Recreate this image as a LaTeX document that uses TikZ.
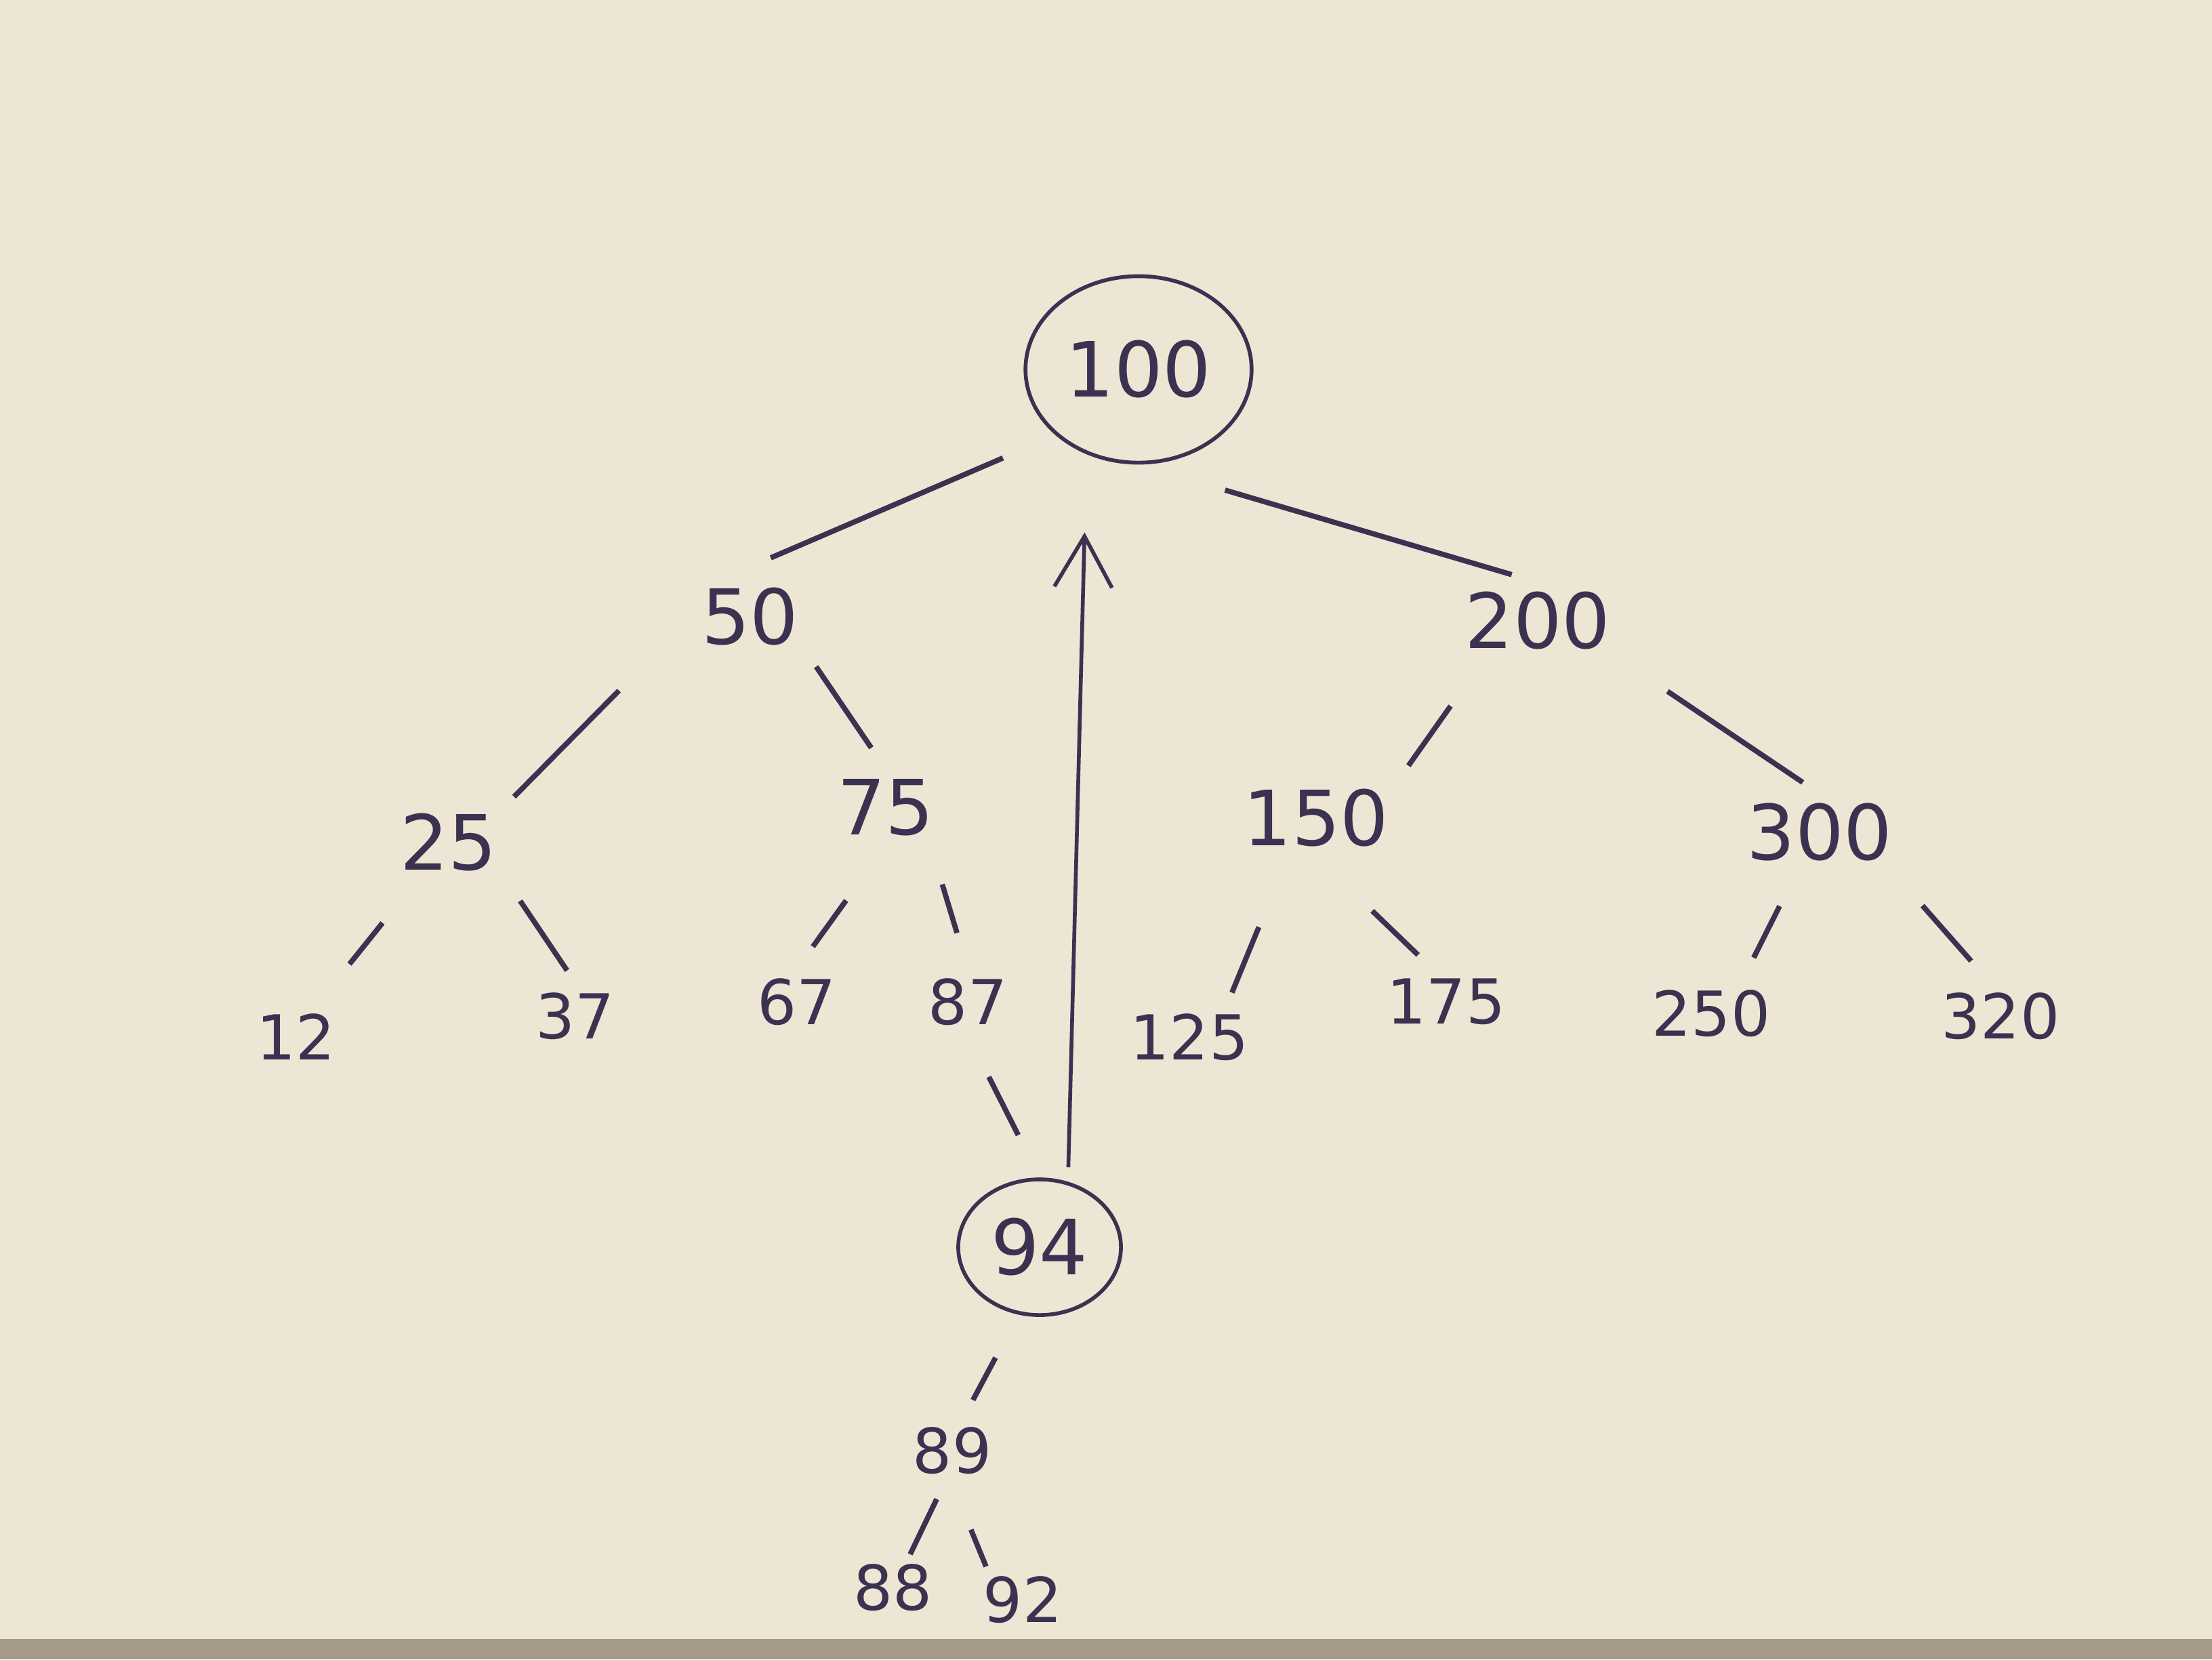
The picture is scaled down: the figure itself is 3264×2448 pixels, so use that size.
\documentclass[tikz,border=0pt]{standalone}
\usepackage{fontspec}
\setmainfont{DejaVu Sans}
\usepackage{tikz}
\usetikzlibrary{arrows.meta,positioning,shapes.geometric}
\definecolor{paper}{HTML}{EDE6D4}
\definecolor{desk}{HTML}{A39A88}
\definecolor{ink}{HTML}{3A3250}

\tikzset{
  key/.style={text=ink,inner sep=3pt,font=\fontsize{32}{32}\selectfont},
  leaf/.style={key,font=\fontsize{26}{26}\selectfont},
  ring/.style={key,draw=ink,line width=1.6pt,ellipse},
  gap/.style 2 args={shorten <=#1,shorten >=#2},
}

\begin{document}
\begin{tikzpicture}[x=0.01cm,y=-0.01cm,line width=2.2pt,draw=ink]
   \fill[paper] (0,0) rectangle (3264,2448);
   \fill[desk] (0,2418) rectangle (3264,2448);
   \useasboundingbox (0,0) rectangle (3264,2448);

   % top of the tree
   \node[ring,minimum width=3.05cm,minimum height=2.75cm] (n100) at (1680,545) {100};
   \node[key] (n50)  at (1107,910)  {50};
   \node[key] (n200) at (2269,916)  {200};
   \node[key] (n25)  at (662,1243)  {25};
   \node[key] (n75)  at (1307,1191) {75};
   \node[key] (n150) at (1942,1207) {150};
   \node[key] (n300) at (2685,1228) {300};

   % leaves
   \node[leaf] (n12)  at (437,1530)  {12};
   \node[leaf] (n37)  at (849,1499)  {37};
   \node[leaf] (n67)  at (1176,1478) {67};
   \node[leaf] (n87)  at (1428,1478) {87};
   \node[leaf] (n125) at (1755,1530) {125};
   \node[leaf] (n175) at (2134,1478) {175};
   \node[leaf] (n250) at (2525,1495) {250};
   \node[leaf] (n320) at (2952,1499) {320};

   % inserted key
   \node[ring,minimum width=2.4cm,minimum height=2.0cm] (n94) at (1534,1840) {94};
   \node[leaf] (n89) at (1405,2140) {89};
   \node[leaf] (n88) at (1318,2342) {88};
   \node[leaf] (n92) at (1509,2360) {92};

   \draw[gap={1.0cm}{0.33cm}] ([yshift=0.17cm]n100.225) -- ([yshift=0.17cm]n50.north);
   \draw[gap={1.33cm}{0.4cm}] (n100.south) -- (n200.north);
   \draw[gap={1.53cm}{0.15cm}] (n50.west) -- (n25.north east);
   \draw[gap={0.2cm}{0.38cm}] (n50.south east) -- (n75.north);
   \draw[gap={0.84cm}{0.25cm}] ([xshift=-0.8cm]n200.south) -- (n150.north east);
   \draw[gap={0.84cm}{0.3cm}] (n200.south east) -- (n300.north);
   \draw[gap={0.79cm}{0.76cm}] ([xshift=-0.48cm]n25.south) -- ([xshift=0.31cm]n12.north);
   \draw[gap={0.35cm}{0.22cm}] (n25.south east) -- (n37.north);
   \draw[gap={1.0cm}{0.4cm}] (n75.south) -- (n67.north);
   \draw[gap={0.6cm}{0.55cm}] ([xshift=-0.2cm]n75.south east) -- (n87.north);
   \draw[gap={1.12cm}{0.18cm}] ([xshift=-0.42cm]n150.south) -- ([xshift=0.56cm]n125.north);
   \draw[gap={1.15cm}{0.3cm}] (n150.south) -- ([xshift=-0.2cm]n175.north);
   \draw[gap={0.58cm}{0.37cm}] ([xshift=-0.33cm]n300.south) -- ([xshift=0.46cm]n250.north);
   \draw[gap={0.68cm}{0.43cm}] ([xshift=-0.15cm]n300.south east) -- ([xshift=-0.15cm]n320.north);
   \draw[gap={0.69cm}{0.7cm}] (n87.south) -- (n94.north);
   \draw[gap={0.68cm}{0.29cm}] ([xshift=-0.33cm]n94.south) -- ([xshift=0.17cm]n89.north);
   \draw[gap={0.25cm}{0cm}] ([xshift=-0.12cm]n89.south) -- ([xshift=0.25cm]n88.north);
   \draw[gap={0.73cm}{0cm}] (n89.south) -- ([xshift=-0.54cm]n92.north);

   \draw[-{Straight Barb[length=0.75cm,width=0.85cm]},line width=1.6pt,shorten <=0.15cm,shorten >=1.0cm]
      ([xshift=0.42cm]n94.north) -- ([xshift=-0.77cm]n100.south);
\end{tikzpicture}
\end{document}
